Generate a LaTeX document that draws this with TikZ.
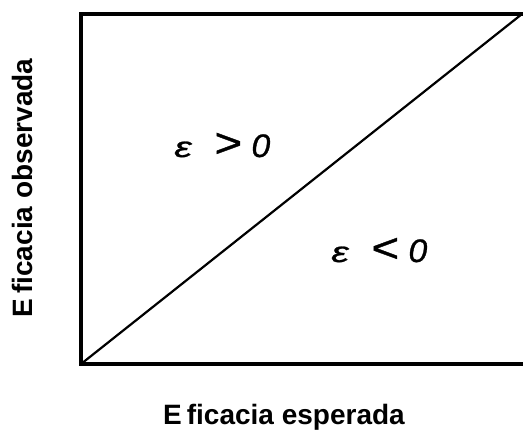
\documentclass[tikz,border=0pt]{standalone}
\usepackage{graphicx}
\usepackage{fontspec}
\setmainfont{Liberation Sans}
\newfontfamily\regfont[FakeBold=0.9]{Liberation Sans Italic}
\newcommand{\epsg}{\scalebox{1.6}[1.15]{ε}}
\newcommand{\gtg}{\scalebox{1.9}[1.65]{>}}
\newcommand{\ltg}{\scalebox{1.9}[1.65]{<}}
\newcommand{\zerog}{\scalebox{1.35}[1.3]{0}}
\begin{document}
\begin{tikzpicture}[x=1pt,y=-1pt,
  frame/.style={line width=3.6pt},
  diag/.style={line width=2.2pt},
  axlabel/.style={font=\fontsize{28}{31}\selectfont\bfseries, inner sep=0pt},
  region/.style={font=\fontsize{25}{28}\selectfont\regfont, inner sep=0pt}]
\useasboundingbox (0,0) rectangle (523,430);
\coordinate (TL) at (81,14);
\coordinate (TR) at (525,14);
\coordinate (BL) at (81,364);
\coordinate (BR) at (525,364);
\coordinate (DTR) at (522,14);
\draw[frame, line cap=rect] (TR) -- (TL) -- (BL) -- (BR);
\draw[diag] (BL) -- (DTR);
\node[region, anchor=base west] (pos) at (174,157) {\epsg\hspace{22pt}\gtg\hspace{10pt}\zerog};
\node[region, anchor=base west] (neg) at (331,262) {\epsg\hspace{22pt}\ltg\hspace{10pt}\zerog};
\node[axlabel, anchor=base] (xl) at (284,425) {E\hspace{5pt}ficacia esperada};
\node[axlabel, anchor=base, rotate=90] (yl) at (32,188) {E\hspace{5pt}ficacia observada};
\end{tikzpicture}
\end{document}
